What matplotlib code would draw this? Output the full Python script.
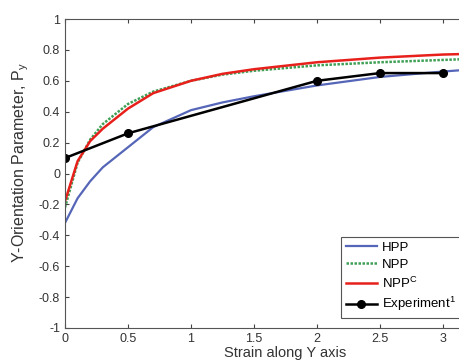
import numpy as np
import matplotlib.pyplot as plt

plt.rcParams['font.family'] = ['Liberation Sans', 'DejaVu Sans']

# strain values where the model curves were sampled
strain = [0, 0.1, 0.2, 0.3, 0.5, 0.7, 1.0, 1.25, 1.5, 2.0, 2.5, 3.0, 3.5]
hpp = [-0.32, -0.16, -0.05, 0.04, 0.17, 0.30, 0.41, 0.46, 0.50, 0.57, 0.625, 0.66, 0.69]
npp = [-0.22, 0.07, 0.22, 0.32, 0.45, 0.53, 0.60, 0.64, 0.665, 0.70, 0.72, 0.735, 0.75]
nppc = [-0.18, 0.08, 0.21, 0.29, 0.42, 0.52, 0.60, 0.645, 0.675, 0.72, 0.75, 0.77, 0.78]

# experiment
exp_x = [0, 0.5, 2.0, 2.5, 3.0]
exp_y = [0.10, 0.26, 0.60, 0.65, 0.65]

xticks = [0, 0.5, 1, 1.5, 2, 2.5, 3]
xtick_labels = ['0', '0.5', '1', '1.5', '2', '2.5', '3']
yticks = np.arange(-1, 1.01, 0.2)
ytick_labels = ['-1', '-0.8', '-0.6', '-0.4', '-0.2', '0', '0.2', '0.4',
                '0.6', '0.8', '1']

fig = plt.figure(figsize=(4.6, 3.61), dpi=100)
# the original figure is cropped on the right, so the axes run past the edge
ax = fig.add_axes([65/460, 33/361, 441/460, 309/361])

ax.plot(strain, hpp, color='#5566b8', lw=1.6, label='HPP')
ax.plot(strain, npp, color='#3f9f55', lw=1.8, dashes=(1, 0.6), label='NPP')
ax.plot(strain, nppc, color='#e8201c', lw=1.8, label='NPP$^\\mathregular{C}$')
ax.plot(exp_x, exp_y, color='black', lw=1.8, marker='o', ms=5.5,
        label='Experiment$^\\mathregular{1}$')

ax.set_xlim(0, 3.5)
ax.set_ylim(-1, 1)
ax.set_xticks(xticks)
ax.set_xticklabels(xtick_labels)
ax.set_yticks(yticks)
ax.set_yticklabels(ytick_labels)
ax.tick_params(direction='in', top=True, right=True, labelsize=9,
               length=3, colors='#444444', labelcolor='#333333')
for s in ax.spines.values():
    s.set_color('#555555')

ax.set_xlabel('Strain along Y axis', fontsize=10.5, color='#333333', labelpad=0.5)
ax.set_ylabel('Y-Orientation Parameter, P$_\\mathregular{y}$', fontsize=11.5,
              color='#333333')
ax.yaxis.set_label_coords(-0.076, 0.535)

leg = ax.legend(loc='upper left', bbox_to_anchor=(341/460, 1 - 237/361),
                bbox_transform=fig.transFigure, fontsize=9.5, fancybox=False,
                framealpha=1, edgecolor='#555555', handlelength=2.4,
                borderpad=0.35, labelspacing=0.35, handletextpad=0.35,
                borderaxespad=0)
leg.get_frame().set_linewidth(0.8)

fig.savefig('out.png', dpi=100)
